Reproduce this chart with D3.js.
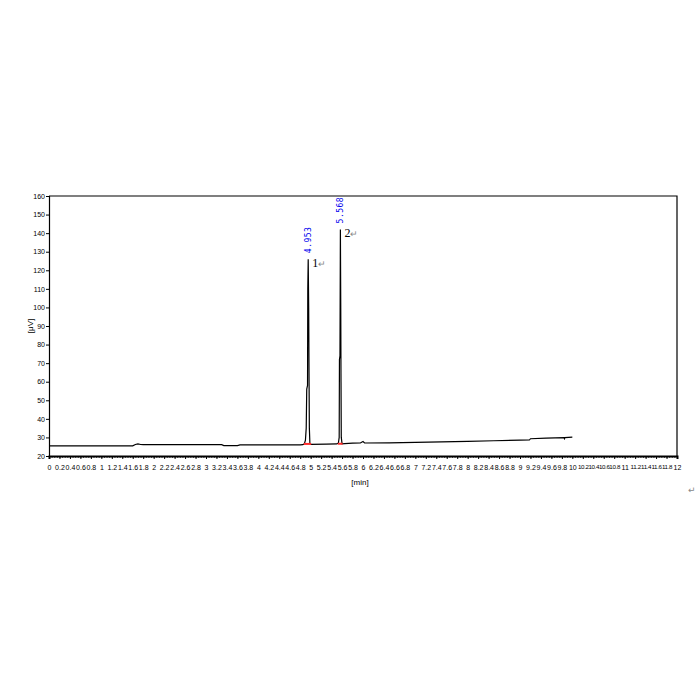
<!DOCTYPE html>
<html>
<head>
<meta charset="utf-8">
<script src="https://cdn.jsdelivr.net/npm/d3@7"></script>
<style>
  html, body { margin: 0; padding: 0; background: #fff; }
  svg { display: block; }
  .tick text { font-family: "Liberation Sans Narrow", "Arial Narrow", "Liberation Sans", sans-serif; font-size: 7px; fill: #000; }
</style>
</head>
<body>
<svg id="chart" width="700" height="700"></svg>
<script>
// ---- data ----
const xDomain = [0, 12];
const yDomain = [20, 160];
const yTicks = [20, 30, 40, 50, 60, 70, 80, 90, 100, 110, 120, 130, 140, 150, 160];
const xTickLabels = ["0","0.2","0.4","0.6","0.8","1","1.2","1.4","1.6","1.8","2","2.2","2.4","2.6","2.8","3","3.2","3.4","3.6","3.8","4","4.2","4.4","4.6","4.8","5","5.2","5.4","5.6","5.8","6","6.2","6.4","6.6","6.8","7","7.2","7.4","7.6","7.8","8","8.2","8.4","8.6","8.8","9","9.2","9.4","9.6","9.8","10","10.2","10.4","10.6","10.8","11","11.2","11.4","11.6","11.8","12"];
// signal trace: time (min) and response
const traceTime = [0, 1.60, 1.65, 1.70, 1.75, 1.80, 3.30, 3.34, 3.60, 3.65, 4.80, 4.85, 4.88, 4.90, 4.915, 4.925, 4.94, 4.945, 4.953, 4.962, 4.97, 4.975, 4.985, 5.00, 5.30, 5.50, 5.53, 5.545, 5.55, 5.56, 5.568, 5.575, 5.58, 5.585, 5.60, 5.65, 5.80, 5.95, 6.00, 6.03, 6.50, 7.00, 7.50, 8.00, 8.50, 9.00, 9.18, 9.20, 9.50, 9.84, 9.85, 9.86, 10.00];
const traceValue = [25.5, 25.5, 26.2, 26.5, 26.2, 26.1, 26.1, 25.6, 25.6, 26.0, 26.0, 26.1, 26.6, 28.5, 35, 56, 58, 110, 126, 100, 58, 35, 27.0, 26.3, 26.4, 26.5, 27.0, 30, 72, 74, 142, 100, 60, 30, 26.6, 26.7, 26.9, 27.0, 27.8, 27.0, 27.1, 27.3, 27.6, 27.9, 28.2, 28.5, 28.6, 29.3, 29.6, 29.9, 29.3, 29.9, 30.2];
const peakNames = ["1", "2"];
const peakTimes = [4.953, 5.568];
const peakLabels = ["4.953", "5.568"];
const peakHeights = [126, 142];
const peakStart = [4.87, 5.52];
const peakEnd = [5.01, 5.61];
const peakBase = [26.5, 26.6];

// ---- layout ----
const svg = d3.select("#chart");
const mLeft = 49, mRight = 677, mTop = 196, mBottom = 456;
const x = d3.scaleLinear().domain(xDomain).range([mLeft, mRight]);
const y = d3.scaleLinear().domain(yDomain).range([mBottom, mTop]);

// frame
svg.append("path")
  .attr("d", `M${mLeft},${mTop}H${mRight}V${mBottom}`)
  .attr("fill", "none").attr("stroke", "#000").attr("stroke-width", 1.2);

// y axis
const yAxis = d3.axisLeft(y).tickValues(yTicks).tickSize(3).tickPadding(1).tickFormat(d3.format("d"));
const gy = svg.append("g").attr("transform", `translate(${mLeft},0)`).call(yAxis);
gy.select(".domain").attr("stroke-width", 1.2);

// x axis minor ticks
const minor = d3.range(0, 12.0001, 0.05);
const gxm = svg.append("g").attr("transform", `translate(0,${mBottom})`)
  .call(d3.axisBottom(x).tickValues(minor).tickSize(2).tickFormat(""));
gxm.select(".domain").remove();
gxm.selectAll(".tick line").attr("stroke", "#555");

// x axis major
const majorVals = xTickLabels.map(Number);
const gx = svg.append("g").attr("transform", `translate(0,${mBottom})`)
  .call(d3.axisBottom(x).tickValues(majorVals).tickSize(3).tickPadding(6)
    .tickFormat((d, i) => xTickLabels[i]));
gx.select(".domain").attr("stroke-width", 2);
gx.selectAll(".tick text")
  .filter((d, i) => xTickLabels[i].length > 3)
  .style("font-size", "6.2px")
  .style("letter-spacing", "-0.35px");

// axis titles
svg.append("text").attr("x", 360).attr("y", 485)
  .attr("text-anchor", "middle")
  .style("font-family", "'Liberation Sans Narrow', 'Liberation Sans', sans-serif")
  .style("font-size", "8px").text("[min]");
svg.append("text")
  .attr("transform", `translate(33,${(mTop + mBottom) / 2}) rotate(-90)`)
  .attr("text-anchor", "middle")
  .style("font-family", "'Liberation Sans Narrow', 'Liberation Sans', sans-serif")
  .style("font-size", "8px").text("[μV]");

// trace
const pts = traceTime.map((t, i) => [t, traceValue[i]]);
svg.append("path")
  .datum(pts)
  .attr("d", d3.line().x(d => x(d[0])).y(d => y(d[1])))
  .attr("fill", "none").attr("stroke", "#000").attr("stroke-width", 1.2);

// red integration baselines
peakStart.forEach((s, i) => {
  svg.append("line")
    .attr("x1", x(s)).attr("x2", x(peakEnd[i]))
    .attr("y1", y(peakBase[i])).attr("y2", y(peakBase[i]))
    .attr("stroke", "#ff2a2a").attr("stroke-width", 2);
});

// peak retention time labels (blue, vertical)
peakTimes.forEach((t, i) => {
  svg.append("text")
    .attr("transform", `translate(${x(t) + 3},${y(peakHeights[i]) - 6}) rotate(-90)`)
    .attr("text-anchor", "start")
    .style("font-family", "'DejaVu Sans Mono', monospace")
    .style("font-size", "8px")
    .style("letter-spacing", "0.5px")
    .attr("fill", "#0000ee")
    .text(peakLabels[i]);
  const g = svg.append("text")
    .attr("x", x(t) + 4).attr("y", y(peakHeights[i]) + 8)
    .style("font-family", "'Liberation Serif', 'Times New Roman', serif")
    .style("font-size", "12px").attr("fill", "#000");
  g.append("tspan").text(peakNames[i]);
  g.append("tspan").attr("fill", "#888").style("font-size", "9px").text("↵");
});

// stray return mark
svg.append("text").attr("x", 688).attr("y", 493)
  .style("font-family", "'DejaVu Sans', sans-serif")
  .style("font-size", "9px").attr("fill", "#888").text("↵");
</script>
</body>
</html>
